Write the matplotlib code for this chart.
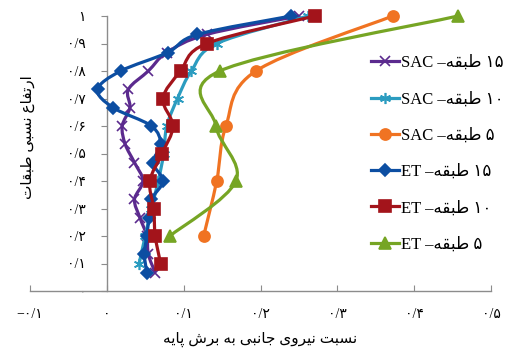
import matplotlib
matplotlib.use("Agg")
import matplotlib.pyplot as plt
from matplotlib.path import Path
from matplotlib.patches import PathPatch
from matplotlib.lines import Line2D


# ── Data ──────────────────────────────────────────────────────────────────────
h15 = [0.067, 0.133, 0.2, 0.267, 0.333, 0.4, 0.467, 0.533, 0.6, 0.667,
       0.733, 0.8, 0.867, 0.933, 1.0]
h10 = [0.1, 0.2, 0.3, 0.4, 0.5, 0.6, 0.7, 0.8, 0.9, 1.0]
h5 = [0.2, 0.4, 0.6, 0.8, 1.0]

sac15 = [0.063, 0.054, 0.052, 0.043, 0.036, 0.047, 0.036, 0.024, 0.020,
         0.030, 0.028, 0.054, 0.078, 0.130, 0.250]
sac10 = [0.042, 0.050, 0.058, 0.067, 0.074, 0.078, 0.092, 0.110, 0.143, 0.262]
sac5 = [0.126, 0.143, 0.155, 0.194, 0.372]
et15 = [0.052, 0.049, 0.052, 0.055, 0.058, 0.073, 0.060, 0.070, 0.058,
        0.008, -0.012, 0.018, 0.079, 0.118, 0.240]
et10 = [0.070, 0.063, 0.061, 0.056, 0.072, 0.086, 0.073, 0.096, 0.130, 0.271]
et5 = [0.082, 0.168, 0.142, 0.147, 0.457]

x_ticks = [-0.1, 0.0, 0.1, 0.2, 0.3, 0.4, 0.5]
x_labels = ["\u2212۰/۱", "۰", "۰/۱", "۰/۲", "۰/۳", "۰/۴", "۰/۵"]
y_ticks = [0.0, 0.1, 0.2, 0.3, 0.4, 0.5, 0.6, 0.7, 0.8, 0.9, 1.0]
y_labels = ["۰", "۰/۱", "۰/۲", "۰/۳", "۰/۴", "۰/۵", "۰/۶", "۰/۷", "۰/۸", "۰/۹", "۱"]


# ── Minimal Persian shaping (matplotlib has no bidi / joining) ────────────────
# (isolated, final, initial, medial); None = letter does not join to the left
FORMS = {
    "ا": ("\uFE8D", "\uFE8E", None, None),
    "ر": ("\uFEAD", "\uFEAE", None, None),
    "و": ("\uFEED", "\uFEEE", None, None),
    "ب": ("\uFE8F", "\uFE90", "\uFE91", "\uFE92"),
    "پ": ("\uFB56", "\uFB57", "\uFB58", "\uFB59"),
    "ت": ("\uFE95", "\uFE96", "\uFE97", "\uFE98"),
    "ج": ("\uFE9D", "\uFE9E", "\uFE9F", "\uFEA0"),
    "س": ("\uFEB1", "\uFEB2", "\uFEB3", "\uFEB4"),
    "ش": ("\uFEB5", "\uFEB6", "\uFEB7", "\uFEB8"),
    "ط": ("\uFEC1", "\uFEC2", "\uFEC3", "\uFEC4"),
    "ع": ("\uFEC9", "\uFECA", "\uFECB", "\uFECC"),
    "ف": ("\uFED1", "\uFED2", "\uFED3", "\uFED4"),
    "ق": ("\uFED5", "\uFED6", "\uFED7", "\uFED8"),
    "ن": ("\uFEE5", "\uFEE6", "\uFEE7", "\uFEE8"),
    "ه": ("\uFEE9", "\uFEEA", "\uFEEB", "\uFEEC"),
    "ی": ("\uFBFC", "\uFBFD", "\uFBFE", "\uFBFF"),
}


def shape(text):
    out = []
    for i, c in enumerate(text):
        if c not in FORMS:
            out.append(c)
            continue
        prev = text[i - 1] if i > 0 else ""
        nxt = text[i + 1] if i < len(text) - 1 else ""
        jp = prev in FORMS and FORMS[prev][2] is not None
        jn = FORMS[c][2] is not None and nxt in FORMS
        iso, fin, ini, med = FORMS[c]
        out.append(med if (jp and jn) else fin if jp else ini if jn else iso)
    return "".join(out)[::-1]


# ── Smoothed line like Excel (cubic Bezier through the points) ────────────────
def smooth_path(xs, ys):
    pts = list(zip(xs, ys))
    n = len(pts)
    verts = [pts[0]]
    codes = [Path.MOVETO]
    for i in range(n - 1):
        p0 = pts[i - 1] if i > 0 else pts[i]
        p1 = pts[i]
        p2 = pts[i + 1]
        p3 = pts[i + 2] if i + 2 < n else pts[i + 1]
        c1 = (p1[0] + (p2[0] - p0[0]) / 6, p1[1] + (p2[1] - p0[1]) / 6)
        c2 = (p2[0] - (p3[0] - p1[0]) / 6, p2[1] - (p3[1] - p1[1]) / 6)
        verts += [c1, c2, p2]
        codes += [Path.CURVE4] * 3
    return Path(verts, codes)


FONTS = ["Liberation Serif", "DejaVu Sans"]
plt.rcParams["font.family"] = FONTS

W, H = 507, 349
fig = plt.figure(figsize=(W / 100, H / 100), dpi=100)
ax = fig.add_axes([30 / W, (H - 291) / H, 461 / W, 275 / H])

word = shape("طبقه")
series = [
    (sac15, h15, "#5B2A8E", "x", 7, f"SAC \u2013{word} ۱۵"),
    (sac10, h10, "#2B9CC0", (6, 2, 0), 8, f"SAC \u2013{word} ۱۰"),
    (sac5, h5, "#F07322", "o", 8, f"SAC \u2013{word} ۵"),
    (et15, h15, "#0C4EA2", "D", 6, f"ET \u2013{word} ۱۵"),
    (et10, h10, "#A3141B", "s", 8, f"ET \u2013{word} ۱۰"),
    (et5, h5, "#76A524", "^", 9, f"ET \u2013{word} ۵"),
]

handles = []
for z, (xs, ys, col, mk, ms, lab) in enumerate(series):
    ax.add_patch(PathPatch(smooth_path(xs, ys), fill=False, edgecolor=col,
                           lw=2.3, zorder=3 + z, clip_on=False))
    ax.plot(xs, ys, ls="none", marker=mk, ms=ms, color=col, mec=col,
            mew=1.2, zorder=3 + z, clip_on=False)
    handles.append(Line2D([], [], color=col, lw=2.3, marker=mk, ms=ms,
                          mec=col, mew=1.2, label=lab))

ax.set_xlim(-0.1, 0.5)
ax.set_ylim(0, 1)
ax.set_xticks(x_ticks)
ax.set_xticklabels(x_labels)
ax.set_yticks(y_ticks)
ax.set_yticklabels(y_labels)

for s in ["top", "right"]:
    ax.spines[s].set_visible(False)
ax.spines["left"].set_position(("data", 0))
ax.spines["bottom"].set_position(("data", 0))
for s in ["left", "bottom"]:
    ax.spines[s].set_color("#8c8c8c")
    ax.spines[s].set_linewidth(1.0)
ax.tick_params(axis="x", direction="in", length=4, color="#8c8c8c",
               labelsize=10, pad=12)
ax.tick_params(axis="y", direction="out", length=4, color="#8c8c8c",
               labelsize=10, pad=11)
ax.patch.set_alpha(0)

fig.text(260 / W, 1 - 339 / H, shape("نسبت نیروی جانبی به برش پایه"),
         ha="center", va="center", fontsize=11)
fig.text(28 / W, 1 - 137 / H, shape("ارتفاع نسبی طبقات"),
         ha="center", va="center", rotation=90, fontsize=11)

fig.legend(handles=handles, loc="upper left", bbox_to_anchor=(371 / W, 1 - 55 / H),
           frameon=False, fontsize=12, handlelength=1.7, handletextpad=0.1,
           labelspacing=1.22, borderaxespad=0, borderpad=0)

fig.savefig("out.png", dpi=100)
